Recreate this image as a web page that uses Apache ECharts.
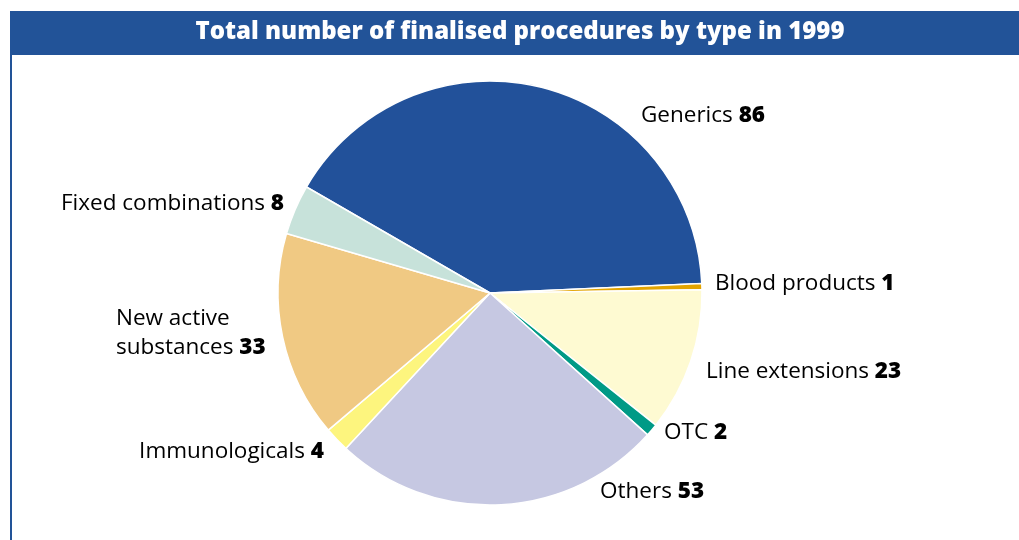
<!DOCTYPE html>
<html>
<head>
<meta charset="utf-8">
<script src="https://cdn.jsdelivr.net/npm/echarts@6/dist/echarts.min.js"></script>
<style>
  html, body { margin: 0; padding: 0; background: #fff; }
  #chart { width: 1019px; height: 540px; }
</style>
</head>
<body>
<div id="chart"></div>
<script>
var categories = ['Generics', 'Blood products', 'Line extensions', 'OTC', 'Others',
  'Immunologicals', 'New active\nsubstances', 'Fixed combinations'];
var counts = [86, 1, 23, 2, 53, 4, 33, 8];
var colors = ['#22519a', '#e3a400', '#fefad2', '#009a86', '#c6c8e2', '#fdf57e', '#f0c983', '#c7e2da'];

// where each label sits (anchor point + alignment)
var labelSpots = [
  { x: 641, y: 116, align: 'left' },
  { x: 715, y: 284, align: 'left' },
  { x: 706, y: 372, align: 'left' },
  { x: 664, y: 433, align: 'left' },
  { x: 600, y: 492, align: 'left' },
  { x: 324, y: 452, align: 'right' },
  { x: 116, y: 333, align: 'left' },
  { x: 284, y: 204, align: 'right' }
];

var FONT = 'Open Sans';

var chart = echarts.init(document.getElementById('chart'));

var opt = {
  animation: false,
  title: {
    text: 'Total number of finalised procedures by type in 1999',
    left: 515,
    top: 15,
    textAlign: 'center',
    textStyle: {
      color: '#fff',
      fontWeight: 800,
      fontSize: 24,
      fontFamily: FONT
    }
  },
  graphic: [{
    type: 'rect',
    shape: { x: 10, y: 11, width: 1009, height: 44 },
    style: { fill: '#225398' },
    z: -1
  }, {
    type: 'rect',
    shape: { x: 10, y: 55, width: 2, height: 485 },
    style: { fill: '#225398' },
    z: -1
  }],
  series: [{
    type: 'pie',
    center: [490, 293],
    radius: 212,
    startAngle: 150,
    clockwise: true,
    itemStyle: {
      borderColor: '#fff',
      borderWidth: 1.5
    },
    labelLine: { show: false },
    label: {
      show: true,
      position: 'outside',
      formatter: function (p) {
        return p.name + ' {b|' + p.value + '}';
      },
      color: '#000',
      fontSize: 22.5,
      fontFamily: FONT,
      lineHeight: 29,
      rich: {
        b: {
          fontWeight: 800,
          fontSize: 22.5,
          fontFamily: FONT,
          color: '#000'
        }
      }
    },
    labelLayout: function (p) {
      var s = labelSpots[p.dataIndex];
      return { x: s.x, y: s.y, align: s.align, verticalAlign: 'middle' };
    },
    data: categories.map(function (name, i) {
      return { name: name, value: counts[i], itemStyle: { color: colors[i] } };
    })
  }]
};

chart.setOption(opt);
</script>
</body>
</html>
